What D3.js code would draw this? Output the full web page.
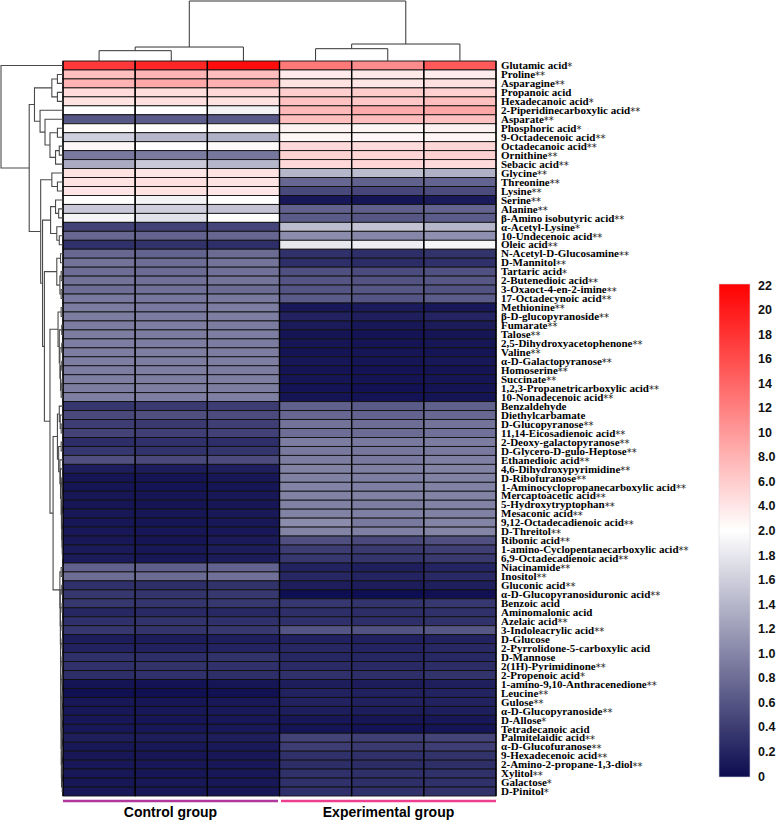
<!DOCTYPE html>
<html><head><meta charset="utf-8">
<script src="https://cdn.jsdelivr.net/npm/d3@7"></script>
<style>body{margin:0;background:#fff}</style>
</head><body>
<svg id="chart" width="778" height="822"></svg>
<script>
// ---------- DATA ----------
const columns = ["C1","C2","C3","E1","E2","E3"];
const groups = ["Control group","Experimental group"];
const rowLabels = [
"Glutamic acid*","Proline**","Asparagine**","Propanoic acid","Hexadecanoic acid*",
"2-Piperidinecarboxylic acid**","Asparate**","Phosphoric acid*","9-Octadecenoic acid**","Octadecanoic acid**",
"Ornithine**","Sebacic acid**","Glycine**","Threonine**","Lysine**","Serine**","Alanine**",
"β-Amino isobutyric acid**","α-Acetyl-Lysine*","10-Undecenoic acid**","Oleic acid**",
"N-Acetyl-D-Glucosamine**","D-Mannitol**","Tartaric acid*","2-Butenedioic acid**","3-Oxaoct-4-en-2-imine**",
"17-Octadecynoic acid**","Methionine**","β-D-glucopyranoside**","Fumarate**","Talose**",
"2,5-Dihydroxyacetophenone**","Valine**","α-D-Galactopyranose**","Homoserine**","Succinate**",
"1,2,3-Propanetricarboxylic acid**","10-Nonadecenoic acid**","Benzaldehyde","Diethylcarbamate",
"D-Glucopyranose**","11,14-Eicosadienoic acid**","2-Deoxy-galactopyranose**","D-Glycero-D-gulo-Heptose**",
"Ethanedioic acid**","4,6-Dihydroxypyrimidine**","D-Ribofuranose**","1-Aminocyclopropanecarboxylic acid**",
"Mercaptoacetic acid**","5-Hydroxytryptophan**","Mesaconic acid**","9,12-Octadecadienoic acid**",
"D-Threitol**","Ribonic acid**","1-amino-Cyclopentanecarboxylic acid**","6,9-Octadecadienoic acid**",
"Niacinamide**","Inositol**","Gluconic acid**","α-D-Glucopyranosiduronic acid**","Benzoic acid",
"Aminomalonic acid","Azelaic acid**","3-Indoleacrylic acid**","D-Glucose","2-Pyrrolidone-5-carboxylic acid",
"D-Mannose","2(1H)-Pyrimidinone**","2-Propenoic acid*","1-amino-9,10-Anthracenedione**","Leucine**",
"Gulose**","α-D-Glucopyranoside**","D-Allose*","Tetradecanoic acid","Palmitelaidic acid**",
"α-D-Glucofuranose**","9-Hexadecenoic acid**","2-Amino-2-propane-1,3-diol**","Xylitol**","Galactose*","D-Pinitol*"
];
// values: [C1, C2, C3, E1, E2, E3] for each row
const values = [
[17.5,19,21,12.5,11,15],[7,7.8,7.2,3.6,3.8,3.5],[8,8.8,8.2,4.2,4,4.4],[4.8,4.6,5,5.8,6,5.6],[4.3,4.5,4.2,6.8,6.4,7],
[2.05,2.1,1.9,7.5,8.6,9],[0.62,0.66,0.64,7,7.2,6.8],[2.3,2.2,2.4,3.0,2.8,3.1],[1.6,1.4,1.35,2.7,2.6,2.8],[2.6,2.1,2.3,5.0,4.8,5.2],
[0.9,0.92,0.88,5.5,5.3,5.6],[1.3,1.55,1.4,5.0,5.2,4.9],[4.2,4.0,4.3,1.4,1.45,1.35],[4.2,4.4,4.1,0.75,0.7,0.72],[4.0,4.2,3.9,0.5,0.48,0.52],
[2.1,1.9,2.05,0.1,0.08,0.12],[1.55,1.6,1.5,0.7,0.68,0.72],[1.92,1.75,2.0,0.65,0.62,0.66],[0.45,0.44,0.47,1.45,1.5,1.4],[0.75,0.72,0.74,1.05,1.0,1.08],
[0.3,0.32,0.28,1.8,1.85,1.93],[0.75,0.72,0.78,0.3,0.28,0.32],[0.85,0.8,0.86,0.28,0.26,0.3],[0.8,0.78,0.82,0.55,0.52,0.56],[0.85,0.82,0.86,0.6,0.58,0.62],
[0.8,0.82,0.78,0.6,0.62,0.58],[0.9,0.88,0.9,0.65,0.6,0.66],[0.92,0.9,0.93,0.1,0.12,0.1],[0.93,0.92,0.94,0.18,0.16,0.2],[0.93,0.94,0.92,0.12,0.1,0.13],
[0.93,0.92,0.94,0.07,0.06,0.08],[0.94,0.93,0.92,0.08,0.07,0.09],[0.93,0.94,0.93,0.07,0.08,0.07],[0.94,0.93,0.94,0.09,0.08,0.1],[0.93,0.94,0.92,0.07,0.06,0.07],
[0.94,0.93,0.94,0.08,0.07,0.08],[0.93,0.94,0.93,0.06,0.05,0.07],[0.95,0.94,0.95,0.07,0.06,0.07],[0.35,0.38,0.4,0.7,0.65,0.7],[0.5,0.55,0.52,0.75,0.72,0.76],
[0.4,0.38,0.42,0.85,0.8,0.86],[0.45,0.42,0.44,0.8,0.78,0.82],[0.27,0.3,0.28,0.93,0.9,0.92],[0.35,0.32,0.34,0.9,0.88,0.9],[0.55,0.5,0.52,0.93,0.9,0.95],
[0.15,0.14,0.16,0.97,0.95,0.98],[0.08,0.07,0.1,0.96,0.94,0.97],[0.07,0.06,0.08,0.98,0.95,0.97],[0.09,0.08,0.1,0.97,0.96,0.98],[0.08,0.07,0.09,0.96,0.93,0.97],
[0.1,0.09,0.11,0.97,0.95,0.96],[0.09,0.08,0.1,1.05,0.9,0.98],[0.1,0.09,0.1,0.98,0.95,0.99],[0.1,0.08,0.12,0.55,0.5,0.55],[0.12,0.1,0.14,0.4,0.38,0.42],
[0.12,0.1,0.13,0.36,0.34,0.38],[0.7,0.68,0.72,0.18,0.16,0.2],[0.8,0.78,0.82,0.22,0.2,0.24],[0.3,0.28,0.32,0.15,0.14,0.16],[0.35,0.33,0.36,0.02,0.02,0.03],
[0.35,0.34,0.36,0.35,0.33,0.36],[0.22,0.24,0.23,0.28,0.27,0.3],[0.3,0.32,0.3,0.3,0.28,0.31],[0.35,0.33,0.36,0.6,0.58,0.62],[0.15,0.14,0.16,0.18,0.17,0.19],
[0.18,0.17,0.19,0.22,0.2,0.23],[0.3,0.28,0.32,0.22,0.21,0.23],[0.3,0.32,0.3,0.25,0.24,0.26],[0.27,0.3,0.28,0.3,0.28,0.32],[0.07,0.06,0.08,0.15,0.14,0.16],
[0.03,0.03,0.04,0.18,0.17,0.19],[0.1,0.09,0.11,0.18,0.17,0.18],[0.1,0.1,0.11,0.15,0.14,0.15],[0.1,0.09,0.1,0.1,0.09,0.1],[0.1,0.1,0.11,0.07,0.06,0.07],
[0.15,0.14,0.15,0.45,0.42,0.46],[0.1,0.1,0.11,0.4,0.38,0.41],[0.1,0.09,0.1,0.3,0.3,0.32],[0.1,0.1,0.1,0.27,0.26,0.28],[0.1,0.09,0.1,0.3,0.29,0.3],
[0.09,0.1,0.1,0.3,0.28,0.3],[0.1,0.1,0.09,0.3,0.3,0.31]
];
const legendTickValues = [0,0.2,0.4,0.6,0.8,1.0,1.2,1.4,1.6,1.8,2.0,4,6,8,10,12,14,16,18,20,22];
const legendTickLabels = ["0","0.2","0.4","0.6","0.8","1.0","1.2","1.4","1.6","1.8","2.0","4.0","6.0","8.0","10","12","14","16","18","20","22"];
// dendrograms as merge lists: [left, right, height]; numbers = leaves, "mK" = merge K
const colMerges = [[0,1,0.172],["m0",2,0.233],[3,4,0.205],["m2",5,0.283],["m1","m3",1]];
const rowMerges = [
[1,2,0.09],[3,4,0.09],["m0","m1",0.18],[7,8,0.09],[9,10,0.06],
["m4",11,0.12],["m3","m5",0.21],[6,"m6",0.29],[5,"m7",0.37],["m2","m8",0.46],
[13,14,0.09],[12,"m10",0.18],[16,17,0.07],[15,"m12",0.12],[19,20,0.06],
[18,"m14",0.10],["m13","m15",0.2],[21,22,0.04],[23,24,0.03],[25,26,0.03],
["m18","m19",0.05],["m17","m20",0.1],[27,28,0.03],[29,30,0.02],[31,32,0.02],
[33,34,0.02],[35,36,0.015],["m26",37,0.03],["m25","m27",0.04],["m24","m28",0.05],
["m23","m29",0.06],["m22","m30",0.08],[40,41,0.03],[39,"m32",0.045],[38,"m33",0.06],
[42,43,0.03],[54,55,0.008],[53,"m36",0.012],[52,"m37",0.015],[50,51,0.01],
["m39","m38",0.02],[48,49,0.015],["m41","m40",0.025],[46,47,0.02],["m43","m42",0.03],
[45,"m44",0.04],[44,"m45",0.05],["m35","m46",0.07],["m34","m47",0.09],[80,81,0.012],
[78,79,0.012],["m50","m49",0.024],[76,77,0.012],["m52","m51",0.026],[74,75,0.012],
["m54","m53",0.028],[72,73,0.012],["m56","m55",0.03],[70,71,0.012],["m58","m57",0.032],
[68,69,0.015],["m60","m59",0.034],[66,67,0.015],["m62","m61",0.036],[64,65,0.015],
["m64","m63",0.038],[62,63,0.015],["m66","m65",0.04],[60,61,0.015],["m68","m67",0.042],
[58,59,0.02],["m70","m69",0.045],[56,57,0.03],["m72","m71",0.05],["m48","m73",0.16],
["m31","m74",0.21],["m21","m75",0.3],["m16","m76",0.33],["m11","m77",0.36],["m9","m78",0.545],
[0,"m79",1]
];

// ---------- DRAW ----------
const svg = d3.select("#chart");
const hmLeft = 63, hmRight = 496, hmTop = 61, hmBottom = 796;

const x = d3.scaleBand().domain(d3.range(columns.length)).range([hmLeft, hmRight]);
const y = d3.scaleBand().domain(d3.range(rowLabels.length)).range([hmTop, hmBottom]);
const color = d3.scaleLinear().domain([0,2,22]).range(["#0c0c50","#ffffff","#ff0000"]).clamp(true);

const cells = [];
values.forEach((row, r) => row.forEach((v, c) => cells.push({r, c, v})));
svg.append("g").selectAll("rect").data(cells).join("rect")
  .attr("x", d => x(d.c)).attr("y", d => y(d.r))
  .attr("width", x.bandwidth()).attr("height", y.bandwidth())
  .attr("fill", d => color(d.v))
  .attr("stroke", "#111").attr("stroke-width", 0.9);
svg.append("g").selectAll("line").data(d3.range(columns.length + 1)).join("line")
  .attr("x1", d => d === columns.length ? hmRight : x(d)).attr("x2", d => d === columns.length ? hmRight : x(d))
  .attr("y1", hmTop).attr("y2", hmBottom)
  .attr("stroke", "#000").attr("stroke-width", 1.4);

// row labels (asterisks drawn lighter and centred, like the reference)
const lab = svg.append("g").selectAll("text").data(rowLabels).join("text")
  .attr("x", hmRight + 5).attr("y", (d, i) => y(i) + y.bandwidth() / 2)
  .attr("dy", "0.34em")
  .attr("font-family", "'Liberation Serif','Times New Roman',serif")
  .attr("font-weight", "bold").attr("font-size", 11)
  .attr("fill", "#000");
lab.append("tspan").text(d => d.replace(/\*+$/, ""));
lab.append("tspan")
  .attr("font-family", "'DejaVu Sans',sans-serif").attr("font-weight", "normal")
  .attr("font-size", 10).attr("dy", "0.12em").attr("fill", "#222")
  .text(d => (d.match(/\*+$/) || [""])[0]);

function buildTree(merges) {
  const nodes = merges.map(() => ({}));
  const ref = k => (typeof k === "number") ? {leaf: k} : nodes[+k.slice(1)];
  merges.forEach((m, i) => { nodes[i].h = m[2]; nodes[i].children = [ref(m[0]), ref(m[1])]; });
  return nodes[nodes.length - 1];
}
function dendroPaths(merges, leafPos, heightPos, vertical) {
  const root = d3.hierarchy(buildTree(merges), d => d.children);
  root.eachAfter(n => {
    if (!n.children) { n.p = leafPos(n.data.leaf); n.hv = 0; }
    else { n.p = d3.mean(n.children, k => k.p); n.hv = n.data.h; }
  });
  const paths = [];
  root.each(n => {
    if (!n.children) return;
    const [a, b] = n.children;
    const hn = heightPos(n.hv), ha = heightPos(a.hv), hb = heightPos(b.hv);
    if (vertical) paths.push(`M${a.p},${ha}V${hn}H${b.p}V${hb}`);
    else paths.push(`M${ha},${a.p}H${hn}V${b.p}H${hb}`);
  });
  return paths;
}
const colPaths = dendroPaths(colMerges, d => x(d) + x.bandwidth() / 2, h => hmTop - h * 60, true);
svg.append("g").selectAll("path").data(colPaths).join("path")
  .attr("d", d => d).attr("fill", "none").attr("stroke", "#333").attr("stroke-width", 1);

const rowPaths = dendroPaths(rowMerges, d => y(d) + y.bandwidth() / 2, h => hmLeft - h * 62, false);
svg.append("g").selectAll("path").data(rowPaths).join("path")
  .attr("d", d => d).attr("fill", "none").attr("stroke", "#4a4a4a").attr("stroke-width", 1.1);

const groupRanges = [[0, 2], [3, 5]];
const groupColors = ["#b0379b", "#ee3f8f"];
groupRanges.forEach((g, i) => {
  const x0 = x(g[0]) + (i === 0 ? 0 : 1.5), x1 = x(g[1]) + x.bandwidth() - (i === 0 ? 1.5 : 0);
  svg.append("line").attr("x1", x0).attr("x2", x1).attr("y1", 801).attr("y2", 801)
    .attr("stroke", groupColors[i]).attr("stroke-width", 2.5);
  svg.append("text").attr("x", (x0 + x1) / 2).attr("y", 817)
    .attr("text-anchor", "middle")
    .attr("font-family", "'Liberation Sans',Arial,sans-serif").attr("font-weight", "bold").attr("font-size", 14)
    .text(groups[i]);
});

const legTop = 284, legBottom = 777, legX = 719, legW = 31;
const legY = d3.scaleLinear().domain([0, 2, 22]).range([legBottom - 1, (legTop + legBottom) / 2, legTop + 1]);
const defs = svg.append("defs");
const grad = defs.append("linearGradient").attr("id", "lg").attr("x1", 0).attr("y1", 1).attr("x2", 0).attr("y2", 0);
[0, 0.25, 0.5, 0.6, 0.7, 0.8, 0.9, 1].forEach(t => {
  const v = legY.invert(legBottom - t * (legBottom - legTop));
  grad.append("stop").attr("offset", t).attr("stop-color", color(v));
});
svg.append("rect").attr("x", legX).attr("y", legTop).attr("width", legW).attr("height", legBottom - legTop)
  .attr("fill", "url(#lg)").attr("stroke", "#d8d8e0").attr("stroke-width", 0.6);
svg.append("g").selectAll("text").data(legendTickValues).join("text")
  .attr("x", 758).attr("y", d => legY(d)).attr("dy", "0.36em")
  .attr("font-family", "'Liberation Sans',Arial,sans-serif").attr("font-weight", "bold").attr("font-size", 12.5)
  .attr("fill", "#111")
  .text((d, i) => legendTickLabels[i]);
</script>
</body></html>
